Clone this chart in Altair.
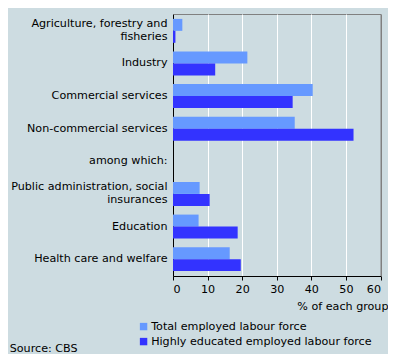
import altair as alt
import pandas as pd

categories = [
    "Agriculture, forestry and|fisheries",
    "Industry",
    "Commercial services",
    "Non-commercial services",
    "among which:",
    "Public administration, social|insurances",
    "Education",
    "Health care and welfare",
]
series = ["Total employed labour force", "Highly educated employed labour force"]
total = [2.7, 21.5, 40.4, 35.2, None, 7.7, 7.4, 16.4]
highly = [0.7, 12.2, 34.6, 52.2, None, 10.6, 18.7, 19.6]
colors = ["#6699FF", "#3333FF"]

rows = []
for c, t, h in zip(categories, total, highly):
    if t is not None:
        rows.append({"cat": c, "series": series[0], "value": t})
    if h is not None:
        rows.append({"cat": c, "series": series[1], "value": h})
df = pd.DataFrame(rows)

FONT = "DejaVu Sans"
FS = 11.15
BG = "#CDDCE1"

chart = alt.Chart(df).mark_bar().encode(
    x=alt.X(
        "value:Q",
        scale=alt.Scale(domain=[0, 60], nice=False),
        axis=alt.Axis(
            values=[0, 10, 20, 30, 40, 50, 60],
            title="% of each group",
            titleAnchor="end",
            titleAlign="right",
            titleX=215,
            titleY=24,
            titleFontWeight="normal",
            titleFont=FONT,
            titleFontSize=FS,
            titleColor="black",
            labelFont=FONT,
            labelFontSize=FS,
            labelColor="black",
            labelPadding=3,
            tickSize=4,
            tickColor="black",
            domainColor="black",
            grid=True,
            gridColor=alt.condition(alt.datum.value == 60, alt.value("#808080"), alt.value("white")),
            gridWidth=1,
        ),
    ),
    y=alt.Y(
        "cat:N",
        sort=categories,
        scale=alt.Scale(domain=categories, paddingInner=0.267, paddingOuter=0.15),
        axis=alt.Axis(
            title=None,
            labelExpr="split(datum.label, '|')",
            labelFont=FONT,
            labelFontSize=FS,
            labelColor="black",
            labelLineHeight=13.5,
            labelOffset=alt.condition("indexof(datum.label, '|') >= 0", alt.value(-7), alt.value(0)),
            labelPadding=6,
            tickSize=0,
            ticks=False,
            domainColor="black",
            labelLimit=200,
        ),
    ),
    yOffset=alt.YOffset("series:N", sort=series, scale=alt.Scale(domain=series, paddingInner=0, paddingOuter=0)),
    color=alt.Color(
        "series:N",
        sort=series,
        scale=alt.Scale(domain=series, range=colors),
        legend=alt.Legend(
            title=None,
            orient="none",
            legendX=-35,
            legendY=307,
            symbolType="square",
            symbolSize=55,
            symbolStrokeWidth=0,
            labelFont=FONT,
            labelFontSize=FS,
            labelColor="black",
            labelLimit=400,
            rowPadding=3,
            labelOffset=2,
        ),
    ),
).properties(
    width=207.5,
    height=262,
    background=BG,
    padding={"left": 165, "top": 6, "right": 7.5, "bottom": 78},
    autosize=alt.AutoSizeParams(type="none"),
    title=alt.TitleParams(
        text="Source: CBS",
        orient="bottom",
        anchor="start",
        frame="bounds",
        dx=-1,
        offset=-4,
        font=FONT,
        fontSize=FS,
        fontWeight="normal",
        color="black",
    ),
).configure_view(stroke="#808080", fill=BG)

chart.save("out.html", embed_options={"renderer": "svg", "actions": False})
